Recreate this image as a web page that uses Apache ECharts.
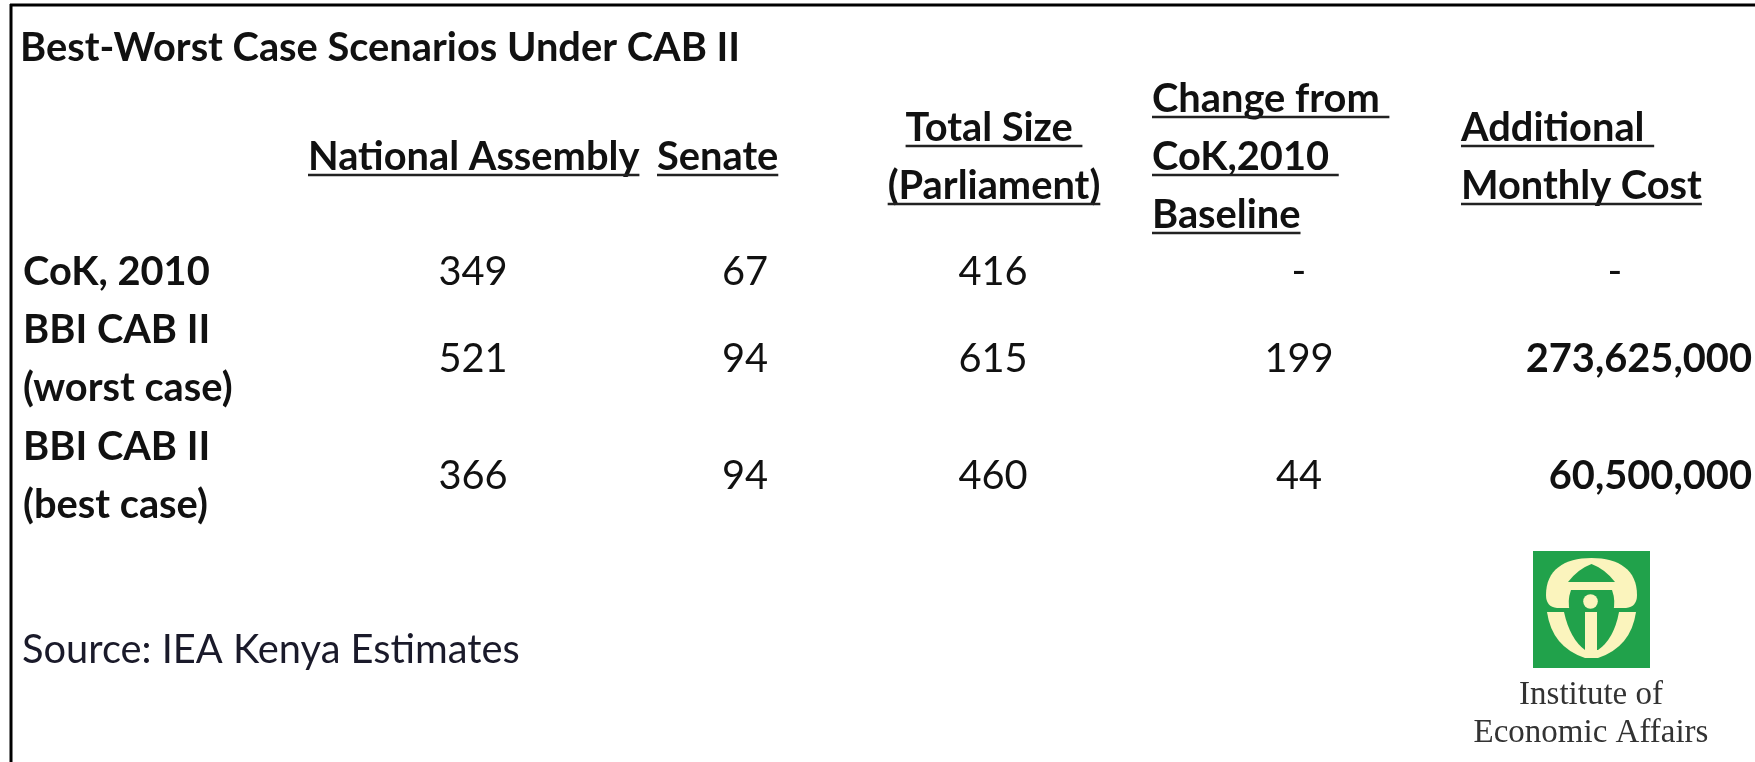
<!DOCTYPE html>
<html>
<head>
<meta charset="utf-8">
<title>Best-Worst Case Scenarios Under CAB II</title>
<script src="https://cdn.jsdelivr.net/npm/echarts@6/dist/echarts.min.js"></script>
<style>
  html, body { margin: 0; padding: 0; background: #fff; }
  #chart { width: 1755px; height: 762px; }
</style>
</head>
<body>
<div id="chart"></div>
<script>
// ---- data ----
var title = "Best-Worst Case Scenarios Under CAB II";
var source = "Source: IEA Kenya Estimates";
var columnHeaders = [
  ["National Assembly"],
  ["Senate"],
  ["Total Size ", "(Parliament)"],
  ["Change from ", "CoK,2010 ", "Baseline"],
  ["Additional ", "Monthly Cost"]
];
var scenarios = [["CoK, 2010"], ["BBI CAB II", "(worst case)"], ["BBI CAB II", "(best case)"]];
var nationalAssembly = [349, 521, 366];
var senate = [67, 94, 94];
var totalSize = [416, 615, 460];
var changeFromBaseline = [null, 199, 44];
var monthlyCost = [null, 273625000, 60500000];
var logoText = ["Institute of", "Economic Affairs"];

// ---- layout (pixels) ----
var FONT = "Lato";
var labelX = 23;
var headerX = [308, 657, 994, 1152, 1461];
var headerAlign = ["left", "left", "center", "left", "left"];
var headerMid = 157;
var lineGap = 58;
var valueX = [473, 745, 993, 1299, 1752];
var valueAlign = ["center", "center", "center", "center", "right"];
var dashX = [473, 745, 993, 1299, 1615];
var rowMid = [272, 359, 476];
var ulOffset = 18;
var logoPos = [1533, 551];

var ctx = document.createElement("canvas").getContext("2d");
function textWidth(s, weight, size) {
  ctx.font = weight + " " + size + "px " + FONT;
  return ctx.measureText(s).width;
}
// title in the picture is ~720px wide, size everything from that
var fs = Math.round(1000 * 720 / textWidth(title, "bold", 100)) / 10;

var cells = [];
columnHeaders.forEach(function (lines, c) {
  lines.forEach(function (s, i) {
    cells.push({
      x: headerX[c], y: headerMid + (i - (lines.length - 1) / 2) * lineGap,
      text: s, weight: "bold", align: headerAlign[c], underline: true
    });
  });
});
scenarios.forEach(function (lines, r) {
  lines.forEach(function (s, i) {
    cells.push({
      x: labelX, y: rowMid[r] + (i - (lines.length - 1) / 2) * lineGap,
      text: s, weight: "bold", align: "left"
    });
  });
});
var columns = [nationalAssembly, senate, totalSize, changeFromBaseline, monthlyCost];
columns.forEach(function (vals, c) {
  vals.forEach(function (v, r) {
    if (v == null) {
      cells.push({ x: dashX[c], y: rowMid[r], text: "-", weight: "normal", align: "center" });
    } else {
      cells.push({
        x: valueX[c], y: rowMid[r], text: v.toLocaleString("en-US"),
        weight: c === 4 ? "bold" : "normal", align: valueAlign[c]
      });
    }
  });
});

function renderItem(params, api) {
  var cell = cells[params.dataIndex];
  var p = api.coord([api.value(0), api.value(1)]);
  var children = [{
    type: "text", x: p[0], y: p[1],
    style: {
      text: cell.text, font: cell.weight + " " + fs + "px " + FONT,
      fill: "#111", align: cell.align, verticalAlign: "middle"
    }
  }];
  if (cell.underline) {
    var w = textWidth(cell.text, cell.weight, fs);
    var x0 = cell.align === "center" ? p[0] - w / 2 : p[0];
    children.push({
      type: "line",
      shape: { x1: x0, y1: p[1] + ulOffset, x2: x0 + w, y2: p[1] + ulOffset },
      style: { stroke: "#222", lineWidth: 2.5 }
    });
  }
  return { type: "group", children: children };
}

var green = "#21a24b";
var cream = "#fbf4bd";

// IEA emblem, drawn relative to the top-left of its green square
function renderLogo(params, api) {
  var p = api.coord([api.value(0), api.value(1)]);
  return {
    type: "group", x: p[0], y: p[1],
    children: [
      { type: "rect", shape: { x: 0, y: 0, width: 117, height: 117 }, style: { fill: green } },
      { type: "path", shape: { pathData: "M14 61 Q19 96 52 107 L65 107 Q98 96 103 61 Z" }, style: { fill: cream } },
      { type: "path", shape: { pathData: "M31 61 Q37 88 52 99 L65 99 Q81 88 86 61 Z" }, style: { fill: green } },
      { type: "path", shape: { pathData: "M13 44 C13 19 31 7 58.5 7 C86 7 104 19 104 44 Q104 56 93 57 L24 57 Q13 56 13 44 Z" }, style: { fill: cream } },
      { type: "path", shape: { pathData: "M35 31 Q45 18 58.5 13 Q72 18 82 31 Z" }, style: { fill: green } },
      { type: "path", shape: { pathData: "M38 39 L79 39 Q83 50 80 61 L37 61 Q34 50 38 39 Z" }, style: { fill: green } },
      { type: "circle", shape: { cx: 57.5, cy: 50.5, r: 7.3 }, style: { fill: cream } },
      { type: "rect", shape: { x: 52, y: 61, width: 12, height: 46 }, style: { fill: cream } },
      {
        type: "text", x: 58, y: 144,
        style: { text: logoText[0], font: "normal 33px 'Liberation Serif'", fill: "#333", align: "center", verticalAlign: "middle" }
      },
      {
        type: "text", x: 58, y: 182,
        style: { text: logoText[1], font: "normal 33px 'Liberation Serif'", fill: "#333", align: "center", verticalAlign: "middle" }
      }
    ]
  };
}

var chart = echarts.init(document.getElementById("chart"));
var option = {
  animation: false,
  grid: { left: 0, right: 0, top: 0, bottom: 0 },
  xAxis: { type: "value", min: 0, max: 1755, show: false },
  yAxis: { type: "value", min: 0, max: 762, inverse: true, show: false },
  graphic: [
    { type: "line", shape: { x1: 10, y1: 5, x2: 1755, y2: 5 }, style: { stroke: "#000", lineWidth: 3 } },
    { type: "line", shape: { x1: 11, y1: 4, x2: 11, y2: 762 }, style: { stroke: "#000", lineWidth: 3 } },
    {
      type: "text", x: 20, y: 48,
      style: { text: title, font: "bold " + fs + "px " + FONT, fill: "#111", verticalAlign: "middle" }
    },
    {
      type: "text", x: 22, y: 650,
      style: { text: source, font: "normal " + fs + "px " + FONT, fill: "#1a1a2a", verticalAlign: "middle" }
    }
  ],
  series: [{
    type: "custom",
    renderItem: renderItem,
    data: cells.map(function (c) { return [c.x, c.y]; }),
    clip: false,
    silent: true
  }, {
    type: "custom",
    renderItem: renderLogo,
    data: [logoPos],
    clip: false,
    silent: true
  }]
};
chart.setOption(option);
</script>
</body>
</html>
